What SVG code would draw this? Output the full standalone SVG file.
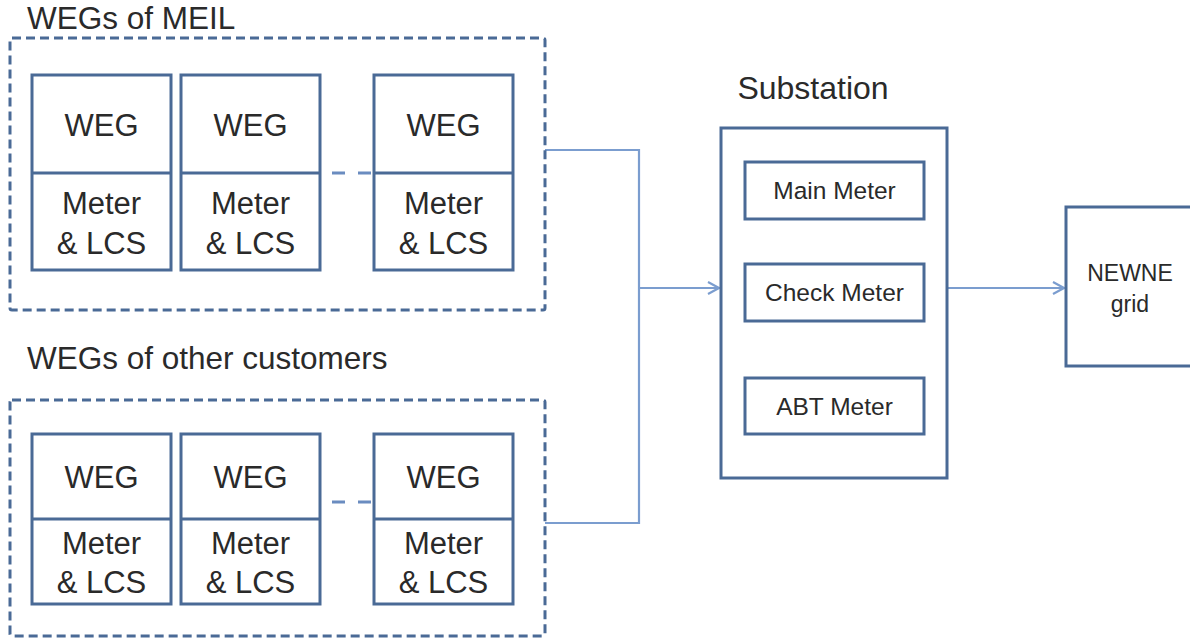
<svg xmlns="http://www.w3.org/2000/svg" width="1190" height="639" viewBox="0 0 1190 639">
<defs>
<style>
.box{fill:#fff;stroke:#4a6a96;stroke-width:3}
.grp{fill:none;stroke:#4a6a96;stroke-width:3;stroke-dasharray:9 5}
.conn{fill:none;stroke:#7b9dcf;stroke-width:2.2}
.dash{fill:none;stroke:#6a8cc0;stroke-width:3;stroke-dasharray:13 13}
.big{font-family:"Liberation Sans",Arial,sans-serif;font-size:31px;fill:#2a2a2a;text-anchor:middle}
.lbl{font-family:"Liberation Sans",Arial,sans-serif;font-size:31.5px;fill:#2a2a2a}
.sm{font-family:"Liberation Sans",Arial,sans-serif;font-size:24.5px;fill:#2a2a2a;text-anchor:middle}
</style>
<marker id="arr" viewBox="0 0 14 14" refX="13" refY="7" markerWidth="14" markerHeight="14" markerUnits="userSpaceOnUse" orient="auto">
<path d="M2 1 L13 7 L2 13" fill="none" stroke="#7b9dcf" stroke-width="2.2"/>
</marker>
</defs>
<rect width="1190" height="639" fill="#fff"/>

<g id="connectors">
<path class="conn" d="M545 150 H639 V523 H545"/>
<path class="conn" d="M639 288 H719" marker-end="url(#arr)"/>
<path class="conn" d="M948 288 H1064" marker-end="url(#arr)"/>
<path class="dash" d="M332 173 H373"/>
<path class="dash" d="M332 502 H373"/>
</g>

<g id="group-meil">
<text class="lbl" x="27" y="29">WEGs of MEIL</text>
<rect class="grp" x="10" y="38" width="535" height="272" rx="2"/>
</g>
<g id="meil-weg1">
<rect class="box" x="32" y="75" width="139" height="195"/>
<line class="box" x1="32" y1="173" x2="171" y2="173"/>
<text class="big" x="101.5" y="136">WEG</text>
<text class="big" x="101.5" y="214">Meter</text>
<text class="big" x="101.5" y="254">&amp; LCS</text>
</g>
<g id="meil-weg2">
<rect class="box" x="181" y="75" width="139" height="195"/>
<line class="box" x1="181" y1="173" x2="320" y2="173"/>
<text class="big" x="250.5" y="136">WEG</text>
<text class="big" x="250.5" y="214">Meter</text>
<text class="big" x="250.5" y="254">&amp; LCS</text>
</g>
<g id="meil-weg3">
<rect class="box" x="374" y="75" width="139" height="195"/>
<line class="box" x1="374" y1="173" x2="513" y2="173"/>
<text class="big" x="443.5" y="136">WEG</text>
<text class="big" x="443.5" y="214">Meter</text>
<text class="big" x="443.5" y="254">&amp; LCS</text>
</g>

<g id="group-other">
<text class="lbl" x="27" y="369">WEGs of other customers</text>
<rect class="grp" x="10" y="400" width="535" height="236" rx="2"/>
</g>
<g id="other-weg1">
<rect class="box" x="32" y="434" width="139" height="170"/>
<line class="box" x1="32" y1="519" x2="171" y2="519"/>
<text class="big" x="101.5" y="488">WEG</text>
<text class="big" x="101.5" y="554">Meter</text>
<text class="big" x="101.5" y="593">&amp; LCS</text>
</g>
<g id="other-weg2">
<rect class="box" x="181" y="434" width="139" height="170"/>
<line class="box" x1="181" y1="519" x2="320" y2="519"/>
<text class="big" x="250.5" y="488">WEG</text>
<text class="big" x="250.5" y="554">Meter</text>
<text class="big" x="250.5" y="593">&amp; LCS</text>
</g>
<g id="other-weg3">
<rect class="box" x="374" y="434" width="139" height="170"/>
<line class="box" x1="374" y1="519" x2="513" y2="519"/>
<text class="big" x="443.5" y="488">WEG</text>
<text class="big" x="443.5" y="554">Meter</text>
<text class="big" x="443.5" y="593">&amp; LCS</text>
</g>

<g id="substation">
<text class="big" x="813" y="99" style="font-size:32px">Substation</text>
<rect class="box" x="721" y="128" width="226" height="350"/>
</g>
<g id="main-meter">
<rect class="box" x="745" y="162" width="179" height="57"/>
<text class="sm" x="834.5" y="199">Main Meter</text>
</g>
<g id="check-meter">
<rect class="box" x="745" y="264" width="179" height="57"/>
<text class="sm" x="834.5" y="301">Check Meter</text>
</g>
<g id="abt-meter">
<rect class="box" x="745" y="378" width="179" height="56"/>
<text class="sm" x="834.5" y="415">ABT Meter</text>
</g>

<g id="newne-grid">
<rect class="box" x="1066" y="207" width="140" height="159"/>
<text class="sm" x="1130" y="281" style="font-size:23px">NEWNE</text>
<text class="sm" x="1130" y="312" style="font-size:23px">grid</text>
</g>
</svg>
